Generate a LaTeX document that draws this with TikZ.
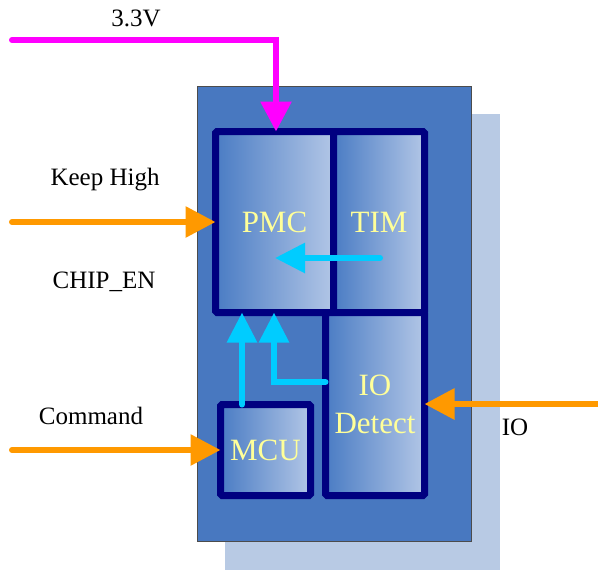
\documentclass[tikz,border=0pt]{standalone}
\usepackage{fontspec}
\setmainfont{Liberation Serif}
\usetikzlibrary{arrows.meta}
\definecolor{mainblue}{HTML}{4878C0}
\definecolor{shadowblue}{HTML}{B8CAE4}
\definecolor{navy}{HTML}{000080}
\definecolor{gradL}{HTML}{4A7CC4}
\definecolor{gradR}{HTML}{B2C6E6}
\definecolor{magentaline}{HTML}{FF00FF}
\definecolor{orangeline}{HTML}{FF9900}
\definecolor{cyanline}{HTML}{00CCFF}
\definecolor{yellowtext}{HTML}{FFFF99}
\begin{document}
\begin{tikzpicture}[x=1pt,y=-1pt,
  block/.style={draw=navy,line width=7pt,left color=gradL,right color=gradR,
    shading angle=90,inner sep=0pt,outer sep=0pt,rounded corners=1.5pt,
    text=yellowtext,font=\fontsize{31}{38}\selectfont,align=center},
  lbl/.style={anchor=base,text=black,font=\fontsize{25}{30}\selectfont,inner sep=0pt},
  magarrow/.style={draw=magentaline,line width=6pt,line cap=round,line join=miter,-{Triangle[length=30pt,width=30pt]}},
  orarrow/.style={draw=orangeline,line width=6pt,line cap=round,-{Triangle[length=30pt,width=30pt]}},
  cyarrow/.style={draw=cyanline,line width=6pt,line cap=round,line join=miter,-{Triangle[length=30pt,width=29pt]}}
]
\useasboundingbox (0,0) rectangle (598,571);
% shadow and main body
\fill[shadowblue] (225,114) rectangle (500,570);
\filldraw[fill=mainblue,draw=black!70,line width=0.8pt] (197,86) rectangle (471,541);
% blocks
\node[block,minimum width=118pt,minimum height=181pt] (pmc) at (274.5,222) {PMC};
\node[block,minimum width=91pt,minimum height=181pt] (tim) at (379,222) {TIM};
\node[block,minimum width=90pt,minimum height=91pt] (mcu) at (265.5,450) {MCU};
\node[block,minimum width=99pt,minimum height=183pt] (iod) at (375,404) {IO\\Detect};
% external coordinates
\coordinate (v33s) at (12,40);
\coordinate (v33c) at (276,40);
\coordinate (khs) at (12,222);
\coordinate (cmds) at (12,450);
\coordinate (ios) at (598,404);
% external arrows
\draw[magarrow] (v33s) -- (v33c) -- (v33c |- pmc.north);
\draw[orarrow] (khs) -- (khs -| pmc.west);
\draw[orarrow] (cmds) -- (cmds -| mcu.west);
\draw[orarrow] (ios) -- (ios -| iod.east);
% internal arrows
\coordinate (timS) at (380,258);
\coordinate (pmcT) at (275,258);
\draw[cyarrow] (timS) -- (pmcT);
\coordinate (mcuX) at (242,0);
\draw[cyarrow] (mcuX |- mcu.north) -- (mcuX |- pmc.south);
\coordinate (iodY) at (0,382);
\coordinate (iodX) at (274,0);
\draw[cyarrow] (iod.west |- iodY) -- (iodX |- iodY) -- (iodX |- pmc.south);
% labels
\node[lbl] (l33) at (136,26) {3.3V};
\node[lbl] (lkh) at (105,185) {Keep High};
\node[lbl] (lce) at (104,288) {CHIP\_EN};
\node[lbl] (lcmd) at (91,424) {Command};
\node[lbl] (lio) at (515,435) {IO};
\end{tikzpicture}
\end{document}
